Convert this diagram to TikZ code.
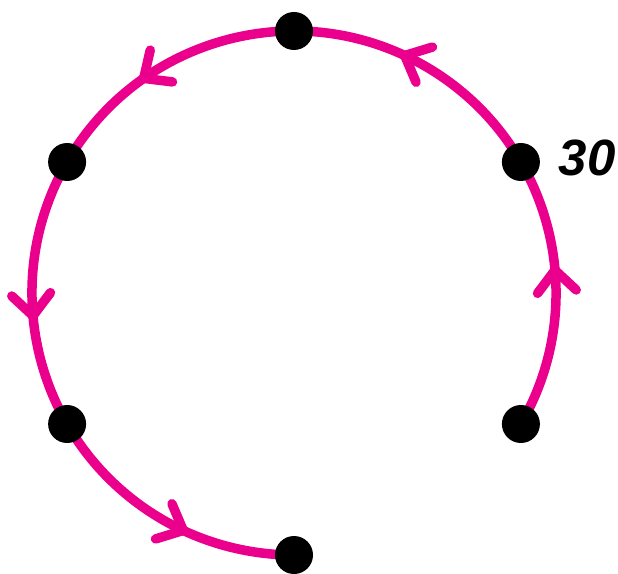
\documentclass[tikz,border=0pt]{standalone}
\usepackage{fontspec}
\setmainfont{Liberation Sans}
\definecolor{mag}{RGB}{234,0,140}
\tikzset{
  ring/.style={draw=mag,line width=9.5pt},
  chev/.style={draw=mag,line width=9.5pt,line cap=round,line join=round},
  dot/.style={circle,fill=black,inner sep=0pt,minimum size=38pt},
  lbl/.style={font=\fontsize{51}{60}\selectfont\bfseries\itshape,inner sep=0pt}
}
\newcommand{\chevron}[1]{%
  \draw[chev] ($(c)+(#1+5:262pt)+(#1+95+180-42:29pt)$) -- ($(c)+(#1+5:262pt)$) -- ($(c)+(#1+5:262pt)+(#1+95+180+42:29pt)$);}
\usetikzlibrary{calc}
\begin{document}
\begin{tikzpicture}[x=1pt,y=1pt]
\useasboundingbox (0,0) rectangle (618,573);
\coordinate (c) at (294,280);
\coordinate (p0) at ($(c)+(-30:262)$);
\draw[ring] (p0) arc[start angle=-30,end angle=270,radius=262];
\foreach \a in {0,60,120,180,240}{\chevron{\a}}
\node[dot] (d330) at (p0) {};
\node[dot] (d30) at ($(c)+(30:262)$) {};
\node[dot] (d90) at ($(c)+(90:262)$) {};
\node[dot] (d150) at ($(c)+(150:262)$) {};
\node[dot] (d210) at ($(c)+(210:262)$) {};
\node[dot] (d270) at ($(c)+(270:262)$) {};
\node[lbl] (t) at (587,415) {30};
\end{tikzpicture}
\end{document}
